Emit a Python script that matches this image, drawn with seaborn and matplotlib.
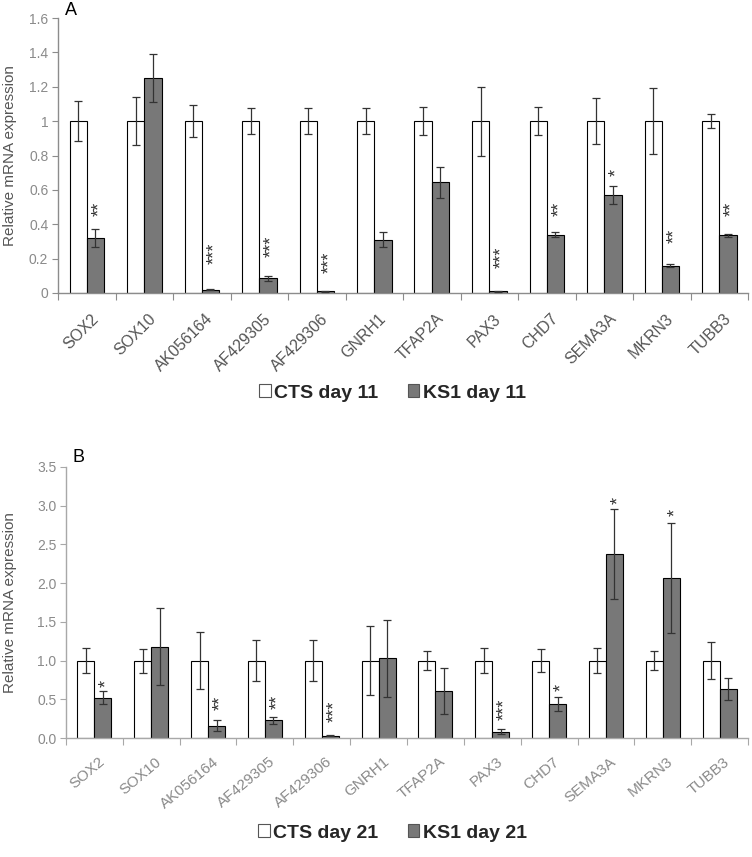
import numpy as np
import pandas as pd
import matplotlib
matplotlib.use("Agg")
import matplotlib.pyplot as plt
import matplotlib.transforms as mtransforms
from matplotlib.patches import Patch
import seaborn as sns

# ---------------- data ----------------
genes = ["SOX2", "SOX10", "AK056164", "AF429305", "AF429306", "GNRH1",
         "TFAP2A", "PAX3", "CHD7", "SEMA3A", "MKRN3", "TUBB3"]

# Panel A (day 11)
cts_a = [1, 1, 1, 1, 1, 1, 1, 1, 1, 1, 1, 1]
cts_a_err = [0.115, 0.14, 0.095, 0.075, 0.075, 0.075, 0.08, 0.2, 0.08, 0.135, 0.19, 0.04]
ks_a = [0.32, 1.25, 0.02, 0.085, 0.01, 0.31, 0.645, 0.01, 0.34, 0.57, 0.16, 0.335]
ks_a_err = [0.05, 0.14, 0.005, 0.015, 0.003, 0.045, 0.09, 0.003, 0.013, 0.05, 0.01, 0.01]
sig_a = ["**", "", "***", "***", "***", "", "", "***", "**", "*", "**", "**"]
sig_a_y = [0.49, None, 0.23, 0.27, 0.18, None, None, 0.21, 0.49, 0.70, 0.335, 0.49]
yticks_a = [0, 0.2, 0.4, 0.6, 0.8, 1.0, 1.2, 1.4, 1.6]
yticklabels_a = ["0", "0.2", "0.4", "0.6", "0.8", "1", "1.2", "1.4", "1.6"]
groups_a = ["CTS day 11", "KS1 day 11"]

# Panel B (day 21)
cts_b = [1, 1, 1, 1, 1, 1, 1, 1, 1, 1, 1, 1]
cts_b_err = [0.165, 0.155, 0.37, 0.26, 0.26, 0.445, 0.12, 0.165, 0.15, 0.16, 0.12, 0.235]
ks_b = [0.52, 1.18, 0.16, 0.23, 0.03, 1.03, 0.605, 0.08, 0.44, 2.38, 2.07, 0.63]
ks_b_err = [0.085, 0.5, 0.07, 0.045, 0.01, 0.5, 0.3, 0.03, 0.085, 0.58, 0.71, 0.14]
sig_b = ["*", "", "**", "**", "***", "", "", "***", "*", "*", "*", ""]
sig_b_y = [0.71, None, 0.46, 0.47, 0.34, None, None, 0.37, 0.65, 3.07, 2.91, None]
yticks_b = [0.0, 0.5, 1.0, 1.5, 2.0, 2.5, 3.0, 3.5]
yticklabels_b = ["0.0", "0.5", "1.0", "1.5", "2.0", "2.5", "3.0", "3.5"]
groups_b = ["CTS day 21", "KS1 day 21"]

# ---------------- style ----------------
sns.set_theme(style="white")
plt.rcParams["font.family"] = ["Liberation Sans", "DejaVu Sans"]

W, H = 752, 857
fig = plt.figure(figsize=(W / 100, H / 100), dpi=100)

WHITE = "#ffffff"
GRAY = "#787878"


def panel(rect, cts, cts_err, ks, ks_err, sig, sig_y, groups, yticks, yticklabels,
          ylim, spine_color, xlabel_color, rot, xfs, xpad, letter, letter_xy,
          ylabel_x, legend_y):
    ax = fig.add_axes(rect)
    df = pd.DataFrame({
        "gene": genes * 2,
        "group": [groups[0]] * len(genes) + [groups[1]] * len(genes),
        "value": list(cts) + list(ks),
    })
    sns.barplot(data=df, x="gene", y="value", hue="group", order=genes,
                hue_order=groups, palette=[WHITE, GRAY], saturation=1,
                edgecolor="black", linewidth=0.8, width=0.6, errorbar=None,
                legend=False, ax=ax)
    # error bars
    for cont, vals, errs in zip(ax.containers, [cts, ks], [cts_err, ks_err]):
        xs = [b.get_x() + b.get_width() / 2 for b in cont]
        ax.errorbar(xs, vals, yerr=errs, fmt="none", ecolor="#333333",
                    elinewidth=0.9, capsize=3, capthick=0.9, zorder=5)
    # significance stars above KS1 bars
    ks_cont = ax.containers[1]
    star_shift = ax.transData + mtransforms.ScaledTranslation(4 / 100, 0, fig.dpi_scale_trans)
    for b, s, yy in zip(ks_cont, sig, sig_y):
        if s and yy is not None:
            ax.text(b.get_x() + b.get_width() / 2, yy, s, rotation=90,
                    ha="center", va="center", fontsize=13, color="#333333",
                    transform=star_shift)

    ax.set_xlim(-0.5, len(genes) - 0.5)
    ax.set_ylim(*ylim)
    ax.set_yticks(yticks)
    ax.set_yticklabels(yticklabels)
    ax.tick_params(axis="x", which="major", length=5, width=0.8, color=spine_color,
                   direction="out", bottom=True)
    ax.tick_params(axis="x", which="minor", length=0, pad=xpad, bottom=True)
    # boundaries ticks (major, no label) and centred labels (minor)
    ax.set_xticks(np.arange(len(genes) + 1) - 0.5)
    ax.set_xticklabels([])
    ax.set_xticks(np.arange(len(genes)), minor=True)
    ax.set_xticklabels(genes, minor=True, rotation=rot, ha="right", va="top",
                       rotation_mode="anchor", fontsize=xfs, color=xlabel_color)
    offset = mtransforms.ScaledTranslation(4 / 100, 0, fig.dpi_scale_trans)
    for lab in ax.get_xticklabels(minor=True):
        lab.set_transform(lab.get_transform() + offset)
    ax.tick_params(axis="y", length=4, width=0.8, color=spine_color, direction="out",
                   left=True, labelsize=10, labelcolor="#8a8a8a", pad=3)
    for side in ["top", "right"]:
        ax.spines[side].set_visible(False)
    for side in ["left", "bottom"]:
        ax.spines[side].set_color(spine_color)
        ax.spines[side].set_linewidth(1.0)
    ax.set_xlabel("")
    ax.set_ylabel("Relative mRNA expression", fontsize=11, color="#555555")
    ax.yaxis.set_label_coords(ylabel_x, 0.5)
    fig.text(letter_xy[0] / W, 1 - letter_xy[1] / H, letter, fontsize=13,
             ha="left", va="top", color="black")
    handles = [Patch(facecolor=WHITE, edgecolor="#555555", linewidth=0.8),
               Patch(facecolor=GRAY, edgecolor="#555555", linewidth=0.8)]
    fig.legend(handles, groups, loc="center", ncol=2, frameon=False,
               bbox_to_anchor=(0.522, 1 - legend_y / H),
               prop={"weight": "bold", "size": 14}, handlelength=0.6,
               handleheight=0.6, handletextpad=0.2, columnspacing=1.5)
    return ax


panel([58 / W, 1 - 293 / H, 690 / W, 275 / H], cts_a, cts_a_err, ks_a, ks_a_err,
      sig_a, sig_a_y, groups_a, yticks_a, yticklabels_a, (0, 1.6), "#8c8c8c",
      "#555555", 45, 11.5, 13, "A", (65, 2), -0.060, 393)

panel([66 / W, 1 - 738 / H, 682 / W, 271 / H], cts_b, cts_b_err, ks_b, ks_b_err,
      sig_b, sig_b_y, groups_b, yticks_b, yticklabels_b, (0, 3.5), "#a8a8a8",
      "#8a8a8a", 40, 11, 12, "B", (73, 449), -0.072, 833)

fig.savefig("out.png", dpi=100)
